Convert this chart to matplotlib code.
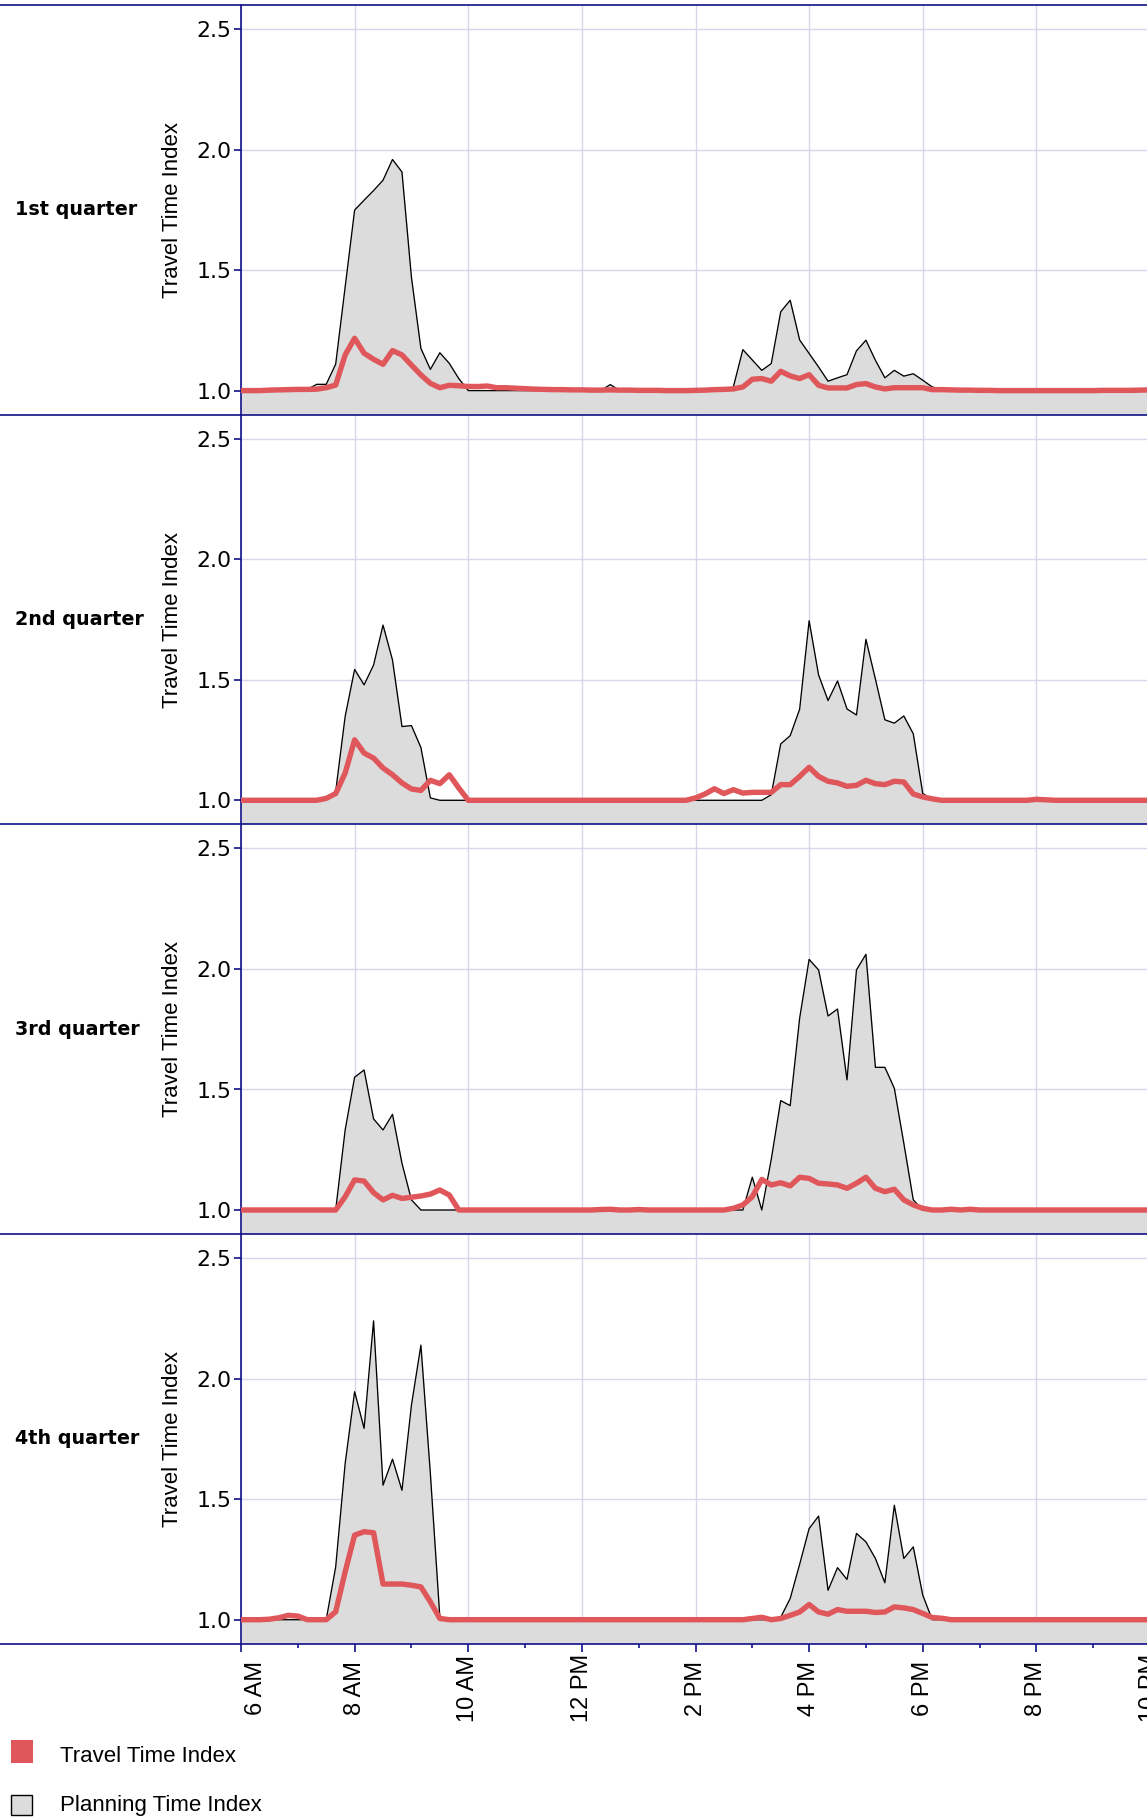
import numpy as np
import matplotlib
matplotlib.use("Agg")
import matplotlib.pyplot as plt
import matplotlib.transforms as mtransforms
from matplotlib.lines import Line2D
from matplotlib.patches import Rectangle

# ---------------- data ----------------
# 10-minute samples from 6:00 AM (index 0) to 10:00 PM (index 96)
minutes_after_6am = np.arange(0, 961, 10)

quarters = ["1st quarter", "2nd quarter", "3rd quarter", "4th quarter"]

tti_q1 = [
    1.000, 1.000, 1.000, 1.002, 1.003, 1.004, 1.005, 1.005, 1.006, 1.012, 1.023, 1.148,
    1.217, 1.155, 1.130, 1.109, 1.166, 1.148, 1.106, 1.065, 1.030, 1.012, 1.022, 1.020,
    1.017, 1.017, 1.019, 1.012, 1.012, 1.010, 1.008, 1.006, 1.005, 1.004, 1.004, 1.003,
    1.003, 1.002, 1.002, 1.003, 1.002, 1.002, 1.001, 1.001, 1.001, 1.000, 1.000, 1.000,
    1.001, 1.002, 1.004, 1.005, 1.007, 1.015, 1.047, 1.050, 1.039, 1.080, 1.061, 1.050,
    1.066, 1.022, 1.011, 1.011, 1.011, 1.025, 1.029, 1.015, 1.007, 1.012, 1.012, 1.012,
    1.012, 1.004, 1.004, 1.003, 1.002, 1.002, 1.001, 1.001, 1.000, 1.000, 1.000, 1.000,
    1.000, 1.000, 1.000, 1.000, 1.000, 1.000, 1.000, 1.001, 1.001, 1.001, 1.001, 1.002,
    1.003]
pti_q1 = [
    1.000, 1.000, 1.000, 1.000, 1.000, 1.000, 1.000, 1.005, 1.026, 1.026, 1.110, 1.430,
    1.749, 1.790, 1.830, 1.873, 1.959, 1.907, 1.470, 1.175, 1.088, 1.157, 1.113, 1.050,
    1.000, 1.000, 1.000, 1.000, 1.000, 1.000, 1.000, 1.000, 1.000, 1.000, 1.000, 1.000,
    1.000, 1.000, 1.000, 1.025, 1.000, 1.000, 1.000, 1.000, 1.000, 1.000, 1.000, 1.000,
    1.000, 1.000, 1.000, 1.000, 1.015, 1.170, 1.127, 1.084, 1.112, 1.327, 1.375, 1.210,
    1.154, 1.098, 1.039, 1.053, 1.066, 1.165, 1.209, 1.126, 1.053, 1.084, 1.060, 1.070,
    1.043, 1.015, 1.005, 1.000, 1.000, 1.000, 1.000, 1.000, 1.000, 1.000, 1.000, 1.000,
    1.000, 1.000, 1.000, 1.000, 1.000, 1.000, 1.000, 1.000, 1.000, 1.000, 1.000, 1.000,
    1.000]

tti_q2 = [
    1.000, 1.000, 1.000, 1.000, 1.000, 1.000, 1.000, 1.000, 1.000, 1.008, 1.028, 1.113,
    1.251, 1.196, 1.175, 1.134, 1.106, 1.072, 1.047, 1.041, 1.083, 1.069, 1.106, 1.051,
    1.000, 1.000, 1.000, 1.000, 1.000, 1.000, 1.000, 1.000, 1.000, 1.000, 1.000, 1.000,
    1.000, 1.000, 1.000, 1.000, 1.000, 1.000, 1.000, 1.000, 1.000, 1.000, 1.000, 1.000,
    1.010, 1.026, 1.048, 1.028, 1.044, 1.030, 1.033, 1.033, 1.033, 1.065, 1.065, 1.099,
    1.137, 1.099, 1.079, 1.072, 1.058, 1.062, 1.083, 1.069, 1.065, 1.079, 1.076, 1.026,
    1.014, 1.006, 1.000, 1.000, 1.000, 1.000, 1.000, 1.000, 1.000, 1.000, 1.000, 1.000,
    1.004, 1.002, 1.000, 1.000, 1.000, 1.000, 1.000, 1.000, 1.000, 1.000, 1.000, 1.000,
    1.000]
pti_q2 = [
    1.000, 1.000, 1.000, 1.000, 1.000, 1.000, 1.000, 1.000, 1.000, 1.005, 1.037, 1.348,
    1.543, 1.479, 1.561, 1.727, 1.582, 1.306, 1.310, 1.219, 1.010, 1.000, 1.000, 1.000,
    1.000, 1.000, 1.000, 1.000, 1.000, 1.000, 1.000, 1.000, 1.000, 1.000, 1.000, 1.000,
    1.000, 1.000, 1.000, 1.000, 1.000, 1.000, 1.000, 1.000, 1.000, 1.000, 1.000, 1.000,
    1.000, 1.000, 1.000, 1.000, 1.000, 1.000, 1.000, 1.000, 1.023, 1.234, 1.268, 1.378,
    1.745, 1.520, 1.414, 1.495, 1.379, 1.354, 1.668, 1.503, 1.334, 1.320, 1.350, 1.276,
    1.028, 1.005, 1.000, 1.000, 1.000, 1.000, 1.000, 1.000, 1.000, 1.000, 1.000, 1.000,
    1.000, 1.000, 1.000, 1.000, 1.000, 1.000, 1.000, 1.000, 1.000, 1.000, 1.000, 1.000,
    1.000]

tti_q3 = [
    1.000, 1.000, 1.000, 1.000, 1.000, 1.000, 1.000, 1.000, 1.000, 1.000, 1.000, 1.055,
    1.125, 1.120, 1.072, 1.042, 1.061, 1.048, 1.053, 1.058, 1.066, 1.083, 1.062, 1.000,
    1.000, 1.000, 1.000, 1.000, 1.000, 1.000, 1.000, 1.000, 1.000, 1.000, 1.000, 1.000,
    1.000, 1.000, 1.002, 1.003, 1.000, 1.000, 1.002, 1.000, 1.000, 1.000, 1.000, 1.000,
    1.000, 1.000, 1.000, 1.000, 1.007, 1.021, 1.055, 1.127, 1.104, 1.113, 1.100, 1.136,
    1.131, 1.111, 1.108, 1.104, 1.090, 1.111, 1.136, 1.090, 1.076, 1.086, 1.042, 1.021,
    1.007, 1.000, 1.000, 1.003, 1.000, 1.003, 1.000, 1.000, 1.000, 1.000, 1.000, 1.000,
    1.000, 1.000, 1.000, 1.000, 1.000, 1.000, 1.000, 1.000, 1.000, 1.000, 1.000, 1.000,
    1.000]
pti_q3 = [
    1.000, 1.000, 1.000, 1.000, 1.000, 1.000, 1.000, 1.000, 1.000, 1.000, 1.000, 1.332,
    1.551, 1.581, 1.378, 1.332, 1.397, 1.194, 1.042, 1.000, 1.000, 1.000, 1.000, 1.000,
    1.000, 1.000, 1.000, 1.000, 1.000, 1.000, 1.000, 1.000, 1.000, 1.000, 1.000, 1.000,
    1.000, 1.000, 1.000, 1.000, 1.000, 1.000, 1.000, 1.000, 1.000, 1.000, 1.000, 1.000,
    1.000, 1.000, 1.000, 1.000, 1.000, 1.000, 1.136, 1.000, 1.210, 1.454, 1.433, 1.796,
    2.040, 1.996, 1.805, 1.834, 1.540, 1.996, 2.061, 1.592, 1.592, 1.505, 1.277, 1.042,
    1.000, 1.000, 1.000, 1.000, 1.000, 1.000, 1.000, 1.000, 1.000, 1.000, 1.000, 1.000,
    1.000, 1.000, 1.000, 1.000, 1.000, 1.000, 1.000, 1.000, 1.000, 1.000, 1.000, 1.000,
    1.000]

tti_q4 = [
    1.000, 1.000, 1.000, 1.002, 1.008, 1.018, 1.015, 1.000, 1.000, 1.000, 1.033, 1.199,
    1.351, 1.365, 1.361, 1.148, 1.148, 1.148, 1.143, 1.136, 1.074, 1.005, 1.000, 1.000,
    1.000, 1.000, 1.000, 1.000, 1.000, 1.000, 1.000, 1.000, 1.000, 1.000, 1.000, 1.000,
    1.000, 1.000, 1.000, 1.000, 1.000, 1.000, 1.000, 1.000, 1.000, 1.000, 1.000, 1.000,
    1.000, 1.000, 1.000, 1.000, 1.000, 1.000, 1.005, 1.010, 1.000, 1.005, 1.018, 1.032,
    1.063, 1.032, 1.023, 1.042, 1.035, 1.035, 1.035, 1.030, 1.032, 1.053, 1.049, 1.042,
    1.026, 1.009, 1.006, 1.000, 1.000, 1.000, 1.000, 1.000, 1.000, 1.000, 1.000, 1.000,
    1.000, 1.000, 1.000, 1.000, 1.000, 1.000, 1.000, 1.000, 1.000, 1.000, 1.000, 1.000,
    1.000]
pti_q4 = [
    1.000, 1.000, 1.000, 1.000, 1.000, 1.000, 1.000, 1.000, 1.000, 1.000, 1.219, 1.648,
    1.946, 1.794, 2.240, 1.558, 1.666, 1.537, 1.890, 2.139, 1.606, 1.010, 1.000, 1.000,
    1.000, 1.000, 1.000, 1.000, 1.000, 1.000, 1.000, 1.000, 1.000, 1.000, 1.000, 1.000,
    1.000, 1.000, 1.000, 1.000, 1.000, 1.000, 1.000, 1.000, 1.000, 1.000, 1.000, 1.000,
    1.000, 1.000, 1.000, 1.000, 1.000, 1.000, 1.000, 1.000, 1.000, 1.010, 1.088, 1.230,
    1.378, 1.430, 1.122, 1.216, 1.167, 1.358, 1.323, 1.254, 1.153, 1.475, 1.254, 1.302,
    1.102, 1.000, 1.000, 1.000, 1.000, 1.000, 1.000, 1.000, 1.000, 1.000, 1.000, 1.000,
    1.000, 1.000, 1.000, 1.000, 1.000, 1.000, 1.000, 1.000, 1.000, 1.000, 1.000, 1.000,
    1.000]

tti_series = [tti_q1, tti_q2, tti_q3, tti_q4]
pti_series = [pti_q1, pti_q2, pti_q3, pti_q4]

x_tick_hours = [6, 8, 10, 12, 14, 16, 18, 20, 22]
x_tick_labels = ["6 AM", "8 AM", "10 AM", "12 PM", "2 PM", "4 PM", "6 PM", "8 PM", "10 PM"]
x_minor_hours = [7, 9, 11, 13, 15, 17, 19, 21]
y_ticks = [1.0, 1.5, 2.0, 2.5]
y_tick_labels = ["1.0", "1.5", "2.0", "2.5"]
legend_labels = ["Travel Time Index", "Planning Time Index"]

# ---------------- style ----------------
NAVY = "#12128a"
GRID = "#d6d6ee"
RED = "#e0575b"
FILL = "#dcdcdc"

W, H = 1147, 1818
fig = plt.figure(figsize=(W / 100, H / 100), dpi=100)

hours = 6 + minutes_after_6am / 60.0

left_px, right_px = 241, 1150
panel_tops = [5, 414.7, 824.4, 1234.1]
panel_h = 409.7

axes = []
for k in range(4):
    top = panel_tops[k]
    ax = fig.add_axes([left_px / W, 1 - (top + panel_h) / H,
                       (right_px - left_px) / W, panel_h / H])
    axes.append(ax)
    ax.set_xlim(6, 22)
    ax.set_ylim(0.9, 2.6)
    ax.fill_between(hours, 0.9, pti_series[k], color=FILL, lw=0, zorder=1)
    ax.plot(hours, pti_series[k], color="black", lw=0.95, zorder=2)
    ax.plot(hours, tti_series[k], color=RED, lw=3.9, zorder=3,
            solid_joinstyle="round", solid_capstyle="butt")

    ax.set_yticks(y_ticks)
    ax.set_yticklabels(y_tick_labels)
    ax.set_xticks(x_tick_hours)
    ax.set_xticks(x_minor_hours, minor=True)
    ax.set_axisbelow(True)
    ax.grid(True, which="major", color=GRID, lw=1.0)

    for s in ["top", "right", "bottom"]:
        ax.spines[s].set_visible(False)
    ax.spines["left"].set_color(NAVY)
    ax.spines["left"].set_linewidth(1.2)

    ax.tick_params(axis="y", direction="out", length=5, width=1.2, color=NAVY,
                   labelcolor="black", labelsize=15.8, pad=2)
    for lab in ax.get_yticklabels():
        lab.set_family("DejaVu Sans")
    if k < 3:
        ax.tick_params(axis="x", which="both", length=0, labelbottom=False)
    else:
        ax.tick_params(axis="x", which="major", direction="out", length=6, width=1.2,
                       color=NAVY, labelbottom=False)
        ax.tick_params(axis="x", which="minor", direction="out", length=3, width=1.2,
                       color=NAVY)

    ax.set_ylabel("Travel Time Index", fontsize=16, family="Liberation Sans", va="center")
    ax.yaxis.set_label_coords((173 - left_px) / (right_px - left_px), 0.5)

    fig.text(15 / W, 1 - (top + panel_h / 2) / H, quarters[k], ha="left", va="center",
             fontsize=13.8, fontweight="bold", family="DejaVu Sans")

# separator lines across the whole width
for y in panel_tops + [panel_tops[-1] + panel_h]:
    fig.add_artist(Line2D([0, 1], [1 - y / H] * 2, color=NAVY, lw=1.2,
                          transform=fig.transFigure, zorder=10))

# x tick labels under last panel
axb = axes[-1]
blend = mtransforms.blended_transform_factory(axb.transData, fig.transFigure)
for h, lab in zip(x_tick_hours, x_tick_labels):
    tr = blend
    if h == 6:
        tr = blend + mtransforms.ScaledTranslation(15 / 100, 0, fig.dpi_scale_trans)
    axb.text(h, 1 - 1688 / H, lab, transform=tr, rotation=90, ha="center", va="center",
             fontsize=17, family="Liberation Sans", clip_on=False)

# legend
fig.add_artist(Rectangle((11 / W, 1 - 1763 / H), 22 / W, 23 / H, transform=fig.transFigure,
                         facecolor=RED, edgecolor="none"))
fig.add_artist(Rectangle((11 / W, 1 - 1815 / H), 21 / W, 20 / H, transform=fig.transFigure,
                         facecolor=FILL, edgecolor="black", lw=1.0))
fig.text(60 / W, 1 - 1757 / H, legend_labels[0], ha="left", va="center",
         fontsize=16, family="Liberation Sans")
fig.text(60 / W, 1 - 1806 / H, legend_labels[1], ha="left", va="center",
         fontsize=16, family="Liberation Sans")

fig.savefig("out.png", dpi=100)
